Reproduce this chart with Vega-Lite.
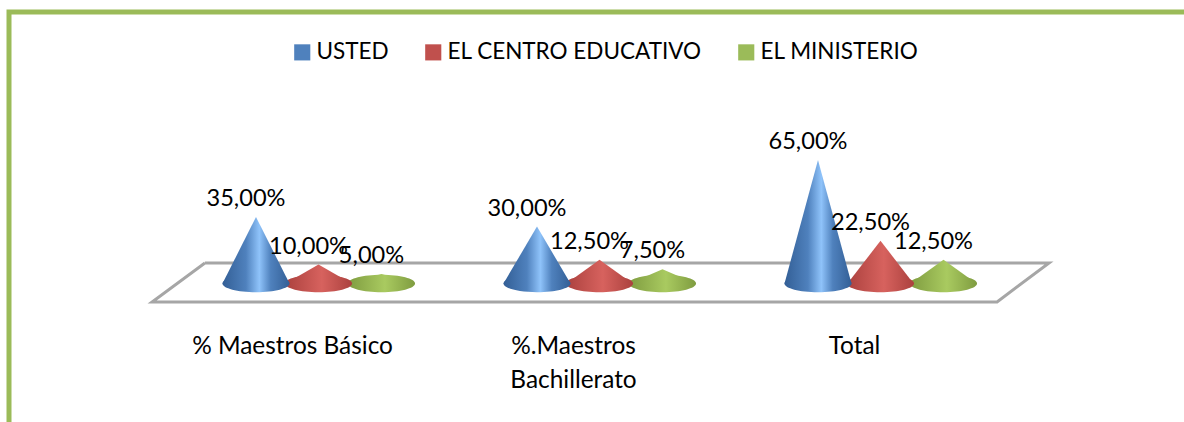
{"$schema":"https://vega.github.io/schema/vega-lite/v6.json","width":1180,"height":420,"autosize":{"type":"none"},"padding":{"left":9,"top":12,"right":-5,"bottom":-10},"background":"white","view":{"stroke":"#9BBB59","strokeWidth":5},"config":{"font":"Lato","text":{"font":"Lato"}},"datasets":{"conos":[{"categoria":"% Maestros Básico","serie":"USTED","valor":35,"etiqueta":"35,00%","izq":0,"der":0},{"categoria":"% Maestros Básico","serie":"EL CENTRO EDUCATIVO","valor":10,"etiqueta":"10,00%","izq":0,"der":0},{"categoria":"% Maestros Básico","serie":"EL MINISTERIO","valor":5,"etiqueta":"5,00%","izq":0,"der":0},{"categoria":"%.Maestros Bachillerato","serie":"USTED","valor":30,"etiqueta":"30,00%","izq":0,"der":0},{"categoria":"%.Maestros Bachillerato","serie":"EL CENTRO EDUCATIVO","valor":12.5,"etiqueta":"12,50%","izq":0,"der":0},{"categoria":"%.Maestros Bachillerato","serie":"EL MINISTERIO","valor":7.5,"etiqueta":"7,50%","izq":0,"der":0},{"categoria":"Total","serie":"USTED","valor":65,"etiqueta":"65,00%","izq":0,"der":0},{"categoria":"Total","serie":"EL CENTRO EDUCATIVO","valor":22.5,"etiqueta":"22,50%","izq":0,"der":0},{"categoria":"Total","serie":"EL MINISTERIO","valor":12.5,"etiqueta":"12,50%","izq":0,"der":0}],"suelo":[{"u":0.094,"nivel":10.8,"orden":1},{"u":3.098,"nivel":10.8,"orden":2},{"u":2.913,"nivel":-9.7,"orden":3},{"u":-0.094,"nivel":-9.7,"orden":4},{"u":0.094,"nivel":10.8,"orden":5}]},"data":{"name":"conos"},"resolve":{"scale":{"x":"independent","xOffset":"independent"}},"layer":[{"data":{"name":"suelo"},"mark":{"type":"line","color":"#A6A6A6","strokeWidth":3},"encoding":{"x":{"field":"u","type":"quantitative","axis":null,"scale":{"domain":[0,3],"range":[169.5,1012.5],"nice":false,"zero":false}},"y":{"field":"nivel","type":"quantitative","axis":null,"scale":{"domain":[-78.16,142.9],"nice":false,"zero":false}},"order":{"field":"orden"}}},{"mark":{"type":"point","filled":true,"size":0},"encoding":{"x":{"field":"categoria","type":"nominal","sort":null,"scale":{"domain":["% Maestros Básico","%.Maestros Bachillerato","Total"],"range":[169.5,1012.5],"paddingInner":0,"paddingOuter":0},"axis":{"title":null,"orient":"bottom","offset":-98,"domain":false,"ticks":false,"labelAngle":0,"labelFont":"Lato","labelFontSize":24.4,"labelColor":"#000000","labelOffset":-27,"labelPadding":0,"labelLineHeight":34,"labelLimit":400,"labelExpr":"datum.label == '%.Maestros Bachillerato' ? ['%.Maestros','Bachillerato'] : datum.label"}},"y":{"datum":0,"type":"quantitative","axis":null,"scale":{"domain":[-78.16,142.9],"nice":false,"zero":false}},"color":{"field":"serie","type":"nominal","scale":{"domain":["USTED","EL CENTRO EDUCATIVO","EL MINISTERIO"],"range":["#4F81BD","#C0504D","#9BBB59"]},"legend":{"title":null,"orient":"none","legendX":282,"legendY":29,"direction":"horizontal","symbolType":"square","symbolSize":260,"symbolOpacity":1,"symbolStrokeWidth":0,"labelFont":"Lato","labelFontSize":22.5,"labelColor":"#000000","labelLimit":400,"columnPadding":33,"labelOffset":3,"symbolOffset":0}}}},{"transform":[{"filter":"datum.serie == 'EL MINISTERIO'"},{"fold":["izq","valor","der"],"as":["punto","altura"]}],"mark":{"type":"area","line":false,"color":{"gradient":"linear","x1":0,"x2":1,"y1":0,"y2":0,"stops":[{"offset":0,"color":"#7F9C40"},{"offset":0.55,"color":"#A9CA60"},{"offset":1,"color":"#7F9C40"}]}},"encoding":{"detail":{"field":"categoria"},"x":{"field":"categoria","type":"nominal","axis":null,"scale":{"domain":["% Maestros Básico","%.Maestros Bachillerato","Total"],"range":[169.5,1012.5],"paddingInner":0,"paddingOuter":0}},"xOffset":{"field":"punto","type":"nominal","scale":{"type":"point","padding":0,"domain":["izq","valor","der"],"range":[170,236]}},"y":{"field":"altura","type":"quantitative","stack":null,"axis":null,"scale":{"domain":[-78.16,142.9],"nice":false,"zero":false}}}},{"transform":[{"filter":"datum.serie == 'EL MINISTERIO'"}],"mark":{"type":"point","filled":true,"opacity":1,"size":4489,"shape":"M-1,0A1,0.26,0,1,0,1,0A1,0.26,0,1,0,-1,0Z","color":{"gradient":"linear","x1":0,"x2":1,"y1":0,"y2":0,"stops":[{"offset":0,"color":"#7F9C40"},{"offset":0.55,"color":"#A9CA60"},{"offset":1,"color":"#7F9C40"}]}},"encoding":{"x":{"field":"categoria","type":"nominal","axis":null,"scale":{"domain":["% Maestros Básico","%.Maestros Bachillerato","Total"],"range":[169.5,1012.5],"paddingInner":0,"paddingOuter":0}},"xOffset":{"datum":"valor","type":"nominal","scale":{"type":"point","padding":0,"domain":["izq","valor","der"],"range":[170,236]}},"y":{"datum":0,"type":"quantitative","axis":null,"scale":{"domain":[-78.16,142.9],"nice":false,"zero":false}}}},{"transform":[{"filter":"datum.serie == 'EL CENTRO EDUCATIVO'"},{"fold":["izq","valor","der"],"as":["punto","altura"]}],"mark":{"type":"area","line":false,"color":{"gradient":"linear","x1":0,"x2":1,"y1":0,"y2":0,"stops":[{"offset":0,"color":"#AB413E"},{"offset":0.55,"color":"#D7625E"},{"offset":1,"color":"#AB413E"}]}},"encoding":{"detail":{"field":"categoria"},"x":{"field":"categoria","type":"nominal","axis":null,"scale":{"domain":["% Maestros Básico","%.Maestros Bachillerato","Total"],"range":[169.5,1012.5],"paddingInner":0,"paddingOuter":0}},"xOffset":{"field":"punto","type":"nominal","scale":{"type":"point","padding":0,"domain":["izq","valor","der"],"range":[107,173]}},"y":{"field":"altura","type":"quantitative","stack":null,"axis":null,"scale":{"domain":[-78.16,142.9],"nice":false,"zero":false}}}},{"transform":[{"filter":"datum.serie == 'EL CENTRO EDUCATIVO'"}],"mark":{"type":"point","filled":true,"opacity":1,"size":4489,"shape":"M-1,0A1,0.26,0,1,0,1,0A1,0.26,0,1,0,-1,0Z","color":{"gradient":"linear","x1":0,"x2":1,"y1":0,"y2":0,"stops":[{"offset":0,"color":"#AB413E"},{"offset":0.55,"color":"#D7625E"},{"offset":1,"color":"#AB413E"}]}},"encoding":{"x":{"field":"categoria","type":"nominal","axis":null,"scale":{"domain":["% Maestros Básico","%.Maestros Bachillerato","Total"],"range":[169.5,1012.5],"paddingInner":0,"paddingOuter":0}},"xOffset":{"datum":"valor","type":"nominal","scale":{"type":"point","padding":0,"domain":["izq","valor","der"],"range":[107,173]}},"y":{"datum":0,"type":"quantitative","axis":null,"scale":{"domain":[-78.16,142.9],"nice":false,"zero":false}}}},{"transform":[{"filter":"datum.serie == 'USTED'"},{"fold":["izq","valor","der"],"as":["punto","altura"]}],"mark":{"type":"area","line":false,"color":{"gradient":"linear","x1":0,"x2":1,"y1":0,"y2":0,"stops":[{"offset":0,"color":"#335F96"},{"offset":0.35,"color":"#4F81BD"},{"offset":0.55,"color":"#8FC3FA"},{"offset":0.72,"color":"#4F81BD"},{"offset":1,"color":"#335F96"}]}},"encoding":{"detail":{"field":"categoria"},"x":{"field":"categoria","type":"nominal","axis":null,"scale":{"domain":["% Maestros Básico","%.Maestros Bachillerato","Total"],"range":[169.5,1012.5],"paddingInner":0,"paddingOuter":0}},"xOffset":{"field":"punto","type":"nominal","scale":{"type":"point","padding":0,"domain":["izq","valor","der"],"range":[44,111]}},"y":{"field":"altura","type":"quantitative","stack":null,"axis":null,"scale":{"domain":[-78.16,142.9],"nice":false,"zero":false}}}},{"transform":[{"filter":"datum.serie == 'USTED'"}],"mark":{"type":"point","filled":true,"opacity":1,"size":4489,"shape":"M-1,0A1,0.26,0,1,0,1,0A1,0.26,0,1,0,-1,0Z","color":{"gradient":"linear","x1":0,"x2":1,"y1":0,"y2":0,"stops":[{"offset":0,"color":"#335F96"},{"offset":0.35,"color":"#4F81BD"},{"offset":0.55,"color":"#8FC3FA"},{"offset":0.72,"color":"#4F81BD"},{"offset":1,"color":"#335F96"}]}},"encoding":{"x":{"field":"categoria","type":"nominal","axis":null,"scale":{"domain":["% Maestros Básico","%.Maestros Bachillerato","Total"],"range":[169.5,1012.5],"paddingInner":0,"paddingOuter":0}},"xOffset":{"datum":"valor","type":"nominal","scale":{"type":"point","padding":0,"domain":["izq","valor","der"],"range":[44,111]}},"y":{"datum":0,"type":"quantitative","axis":null,"scale":{"domain":[-78.16,142.9],"nice":false,"zero":false}}}},{"transform":[{"filter":"datum.serie == 'EL MINISTERIO'"}],"mark":{"type":"text","fontSize":23.6,"font":"Lato","color":"#000000","dx":-10,"dy":-18,"baseline":"middle"},"encoding":{"x":{"field":"categoria","type":"nominal","axis":null,"scale":{"domain":["% Maestros Básico","%.Maestros Bachillerato","Total"],"range":[169.5,1012.5],"paddingInner":0,"paddingOuter":0}},"xOffset":{"datum":"valor","type":"nominal","scale":{"type":"point","padding":0,"domain":["izq","valor","der"],"range":[170,236]}},"y":{"field":"valor","type":"quantitative","axis":null,"scale":{"domain":[-78.16,142.9],"nice":false,"zero":false}},"text":{"field":"etiqueta"}}},{"transform":[{"filter":"datum.serie == 'EL CENTRO EDUCATIVO'"}],"mark":{"type":"text","fontSize":23.6,"font":"Lato","color":"#000000","dx":-10,"dy":-18,"baseline":"middle"},"encoding":{"x":{"field":"categoria","type":"nominal","axis":null,"scale":{"domain":["% Maestros Básico","%.Maestros Bachillerato","Total"],"range":[169.5,1012.5],"paddingInner":0,"paddingOuter":0}},"xOffset":{"datum":"valor","type":"nominal","scale":{"type":"point","padding":0,"domain":["izq","valor","der"],"range":[107,173]}},"y":{"field":"valor","type":"quantitative","axis":null,"scale":{"domain":[-78.16,142.9],"nice":false,"zero":false}},"text":{"field":"etiqueta"}}},{"transform":[{"filter":"datum.serie == 'USTED'"}],"mark":{"type":"text","fontSize":23.6,"font":"Lato","color":"#000000","dx":-10,"dy":-18,"baseline":"middle"},"encoding":{"x":{"field":"categoria","type":"nominal","axis":null,"scale":{"domain":["% Maestros Básico","%.Maestros Bachillerato","Total"],"range":[169.5,1012.5],"paddingInner":0,"paddingOuter":0}},"xOffset":{"datum":"valor","type":"nominal","scale":{"type":"point","padding":0,"domain":["izq","valor","der"],"range":[44,111]}},"y":{"field":"valor","type":"quantitative","axis":null,"scale":{"domain":[-78.16,142.9],"nice":false,"zero":false}},"text":{"field":"etiqueta"}}}]}
